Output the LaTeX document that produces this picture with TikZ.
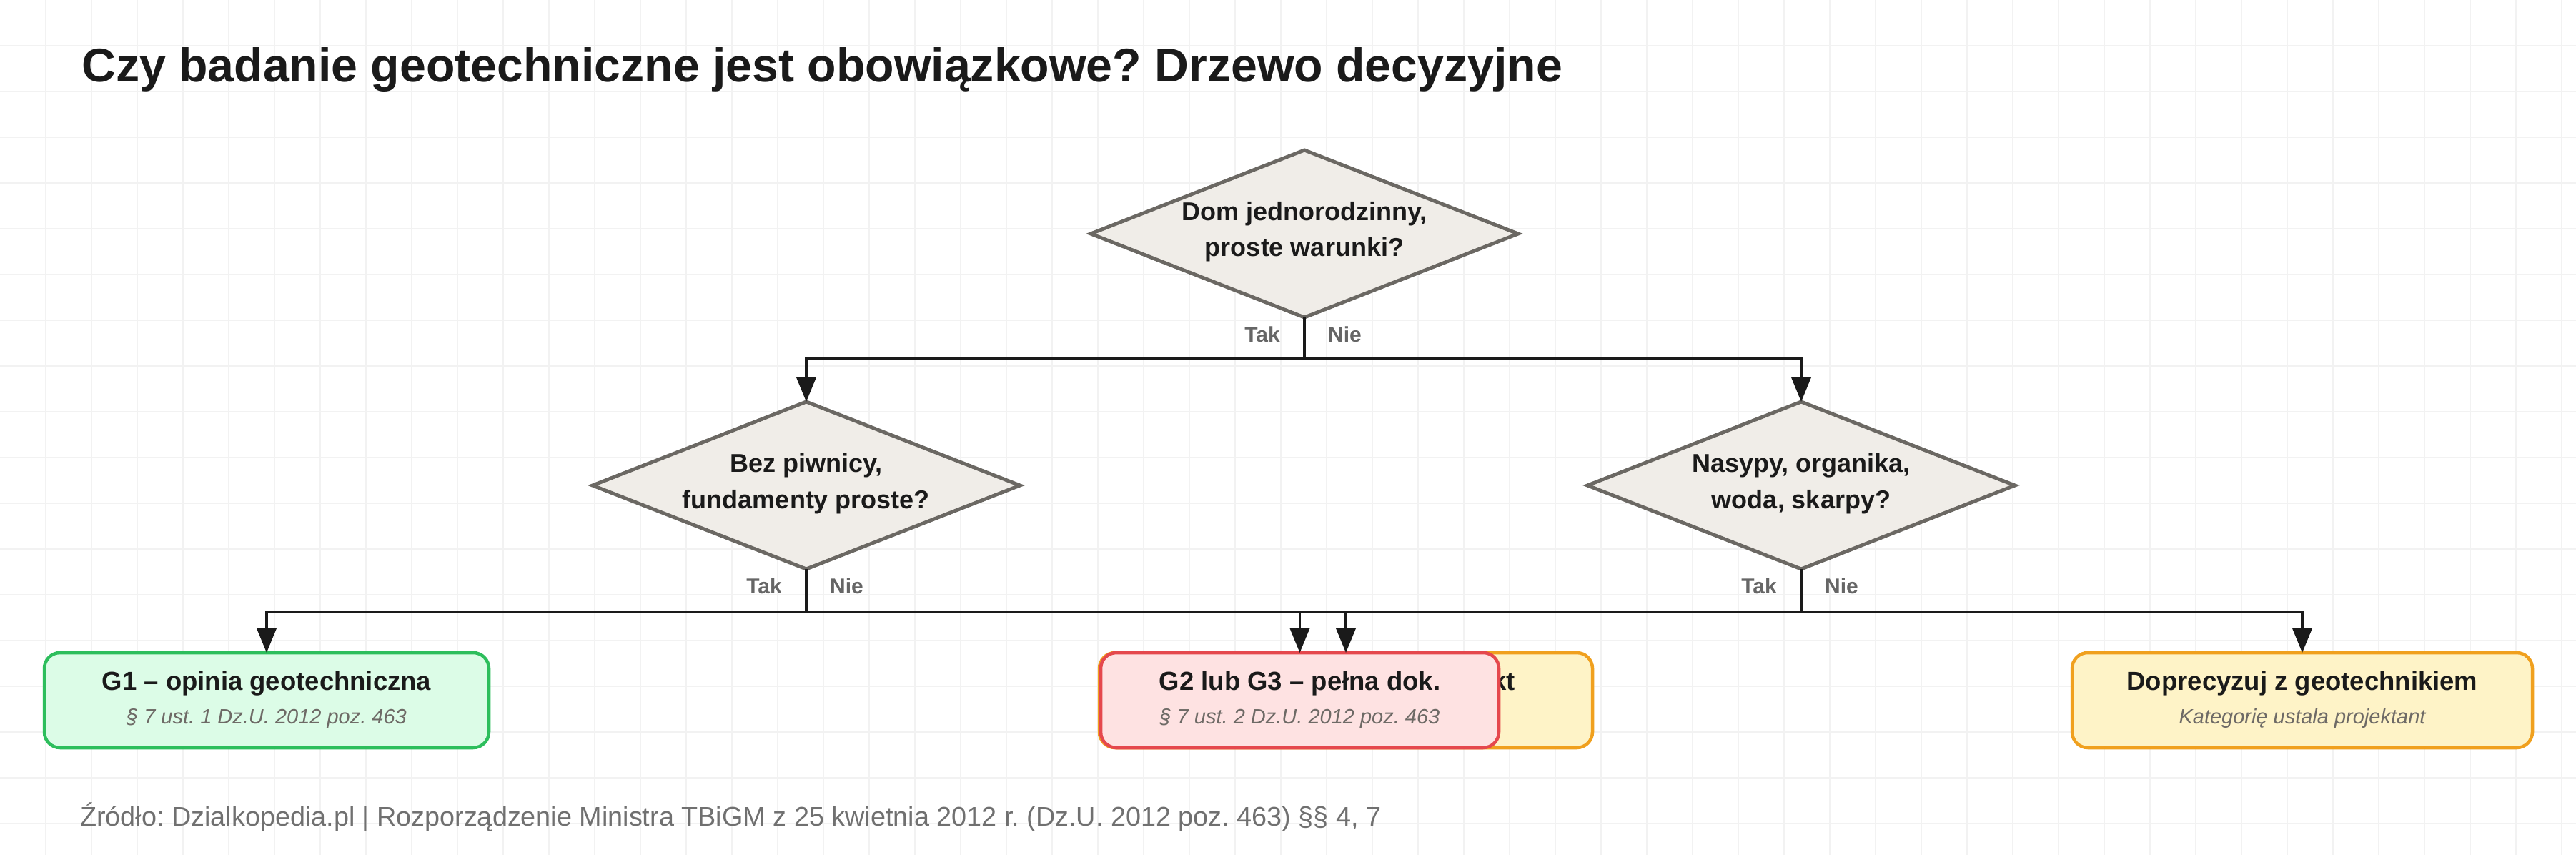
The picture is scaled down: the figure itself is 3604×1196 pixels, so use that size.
\documentclass[tikz,border=0pt]{standalone}
\usepackage{fontspec}
\setmainfont{Liberation Sans}
\usetikzlibrary{shapes.geometric,arrows.meta}
\definecolor{ink}{HTML}{1A1A1A}
\definecolor{subgray}{HTML}{6E6A66}
\definecolor{yngray}{HTML}{666666}
\definecolor{footgray}{HTML}{707070}
\definecolor{gridc}{HTML}{F2F2F2}
\definecolor{dfill}{HTML}{F0EDE8}
\definecolor{dstroke}{HTML}{6B6863}
\definecolor{gfill}{HTML}{DCFCE7}
\definecolor{gstroke}{HTML}{2DBE5C}
\definecolor{rfill}{HTML}{FEE2E2}
\definecolor{rstroke}{HTML}{E5484D}
\definecolor{yfill}{HTML}{FEF3C7}
\definecolor{ystroke}{HTML}{F0A01E}
\tikzset{
  dec/.style={diamond, draw=dstroke, fill=dfill, line width=5pt, minimum width=598pt, minimum height=234pt, inner sep=0pt, outer sep=0pt, aspect=2.54},
  res/.style={rectangle, rounded corners=22pt, line width=4.5pt, minimum height=133pt, inner sep=0pt, outer sep=0pt},
  qtext/.style={anchor=base, inner sep=0pt, text=ink, font=\bfseries\fontsize{36}{40}\selectfont},
  rtitle/.style={anchor=base, inner sep=0pt, text=ink, font=\bfseries\fontsize{36.5}{40}\selectfont},
  rsub/.style={anchor=base, inner sep=0pt, text=subgray, font=\itshape\fontsize{29}{32}\selectfont},
  yntak/.style={anchor=base east, inner sep=0pt, text=yngray, font=\bfseries\fontsize{30}{34}\selectfont},
  ynnie/.style={anchor=base west, inner sep=0pt, text=yngray, font=\bfseries\fontsize{30}{34}\selectfont},
  conn/.style={draw=ink, line width=3.5pt},
  arr/.style={conn, -{Triangle[length=34pt,width=27pt]}},
}
\begin{document}
\frenchspacing
\begin{tikzpicture}[x=1pt,y=-1pt]
\useasboundingbox (0,0) rectangle (3604,1196);
\fill[white] (0,0) rectangle (3604,1196);
\foreach \gx in {64,128,...,3584} \draw[gridc, line width=1.5pt] (\gx,0) -- (\gx,1196);
\foreach \gy in {64,128,...,1152} \draw[gridc, line width=1.5pt] (0,\gy) -- (3604,\gy);

% title
\node[anchor=base west, inner sep=0pt, text=ink, font=\bfseries] (title) at (114,115)
  {\resizebox{2071pt}{!}{Czy badanie geotechniczne jest obowiązkowe? Drzewo decyzyjne}};

% decisions
\node[dec] (d1) at (1825,327) {};
\node[qtext] (d1a) at (1825,308) {Dom jednorodzinny,};
\node[qtext] (d1b) at (1825,358) {proste warunki?};

\node[dec] (d2) at (1128,679) {};
\node[qtext] (d2a) at (1128,660) {Bez piwnicy,};
\node[qtext] (d2b) at (1128,711) {fundamenty proste?};

\node[dec] (d3) at (2520,679) {};
\node[qtext] (d3a) at (2520,660) {Nasypy, organika,};
\node[qtext] (d3b) at (2520,711) {woda, skarpy?};

% yes / no labels
\node[yntak] (t1) at (1791,478) {Tak};
\node[ynnie] (n1) at (1858,478) {Nie};
\node[yntak] (t2) at (1094,830) {Tak};
\node[ynnie] (n2) at (1161,830) {Nie};
\node[yntak] (t3) at (2486,830) {Tak};
\node[ynnie] (n3) at (2553,830) {Nie};

% results
\node[res, draw=gstroke, fill=gfill, minimum width=622pt] (g1) at (373,979.5) {};
\node[rtitle] (g1a) at (373,965) {G1 – opinia geotechniczna};
\node[rsub] (g1b) at (373,1012) {§ 7 ust. 1 Dz.U. 2012 poz. 463};

\node[res, draw=ystroke, fill=yfill, minimum width=690pt] (yb) at (1883,979.5) {};
\node[rtitle, anchor=base east] (yba) at (2120,965) {G2 – dokumentacja + projekt};

\node[res, draw=rstroke, fill=rfill, minimum width=557pt] (rb) at (1818.5,979.5) {};
\node[rtitle] (rba) at (1818.5,965) {G2 lub G3 – pełna dok.};
\node[rsub] (rbb) at (1818.5,1012) {§ 7 ust. 2 Dz.U. 2012 poz. 463};

\node[res, draw=ystroke, fill=yfill, minimum width=644pt] (dp) at (3221,979.5) {};
\node[rtitle] (dpa) at (3221,965) {Doprecyzuj z geotechnikiem};
\node[rsub] (dpb) at (3221,1012) {Kategorię ustala projektant};

% connectors
\coordinate (j1) at (d1.south |- 0,501);
\coordinate (j2) at (d2.south |- 0,856);
\coordinate (j3) at (d3.south |- 0,856);
\draw[conn] (d1.south) -- (j1);
\draw[arr] (j1) -| (d2.north);
\draw[arr] (j1) -| (d3.north);
\draw[conn] (d2.south) -- (j2);
\draw[arr] (j2) -| (g1.north);
\draw[arr] (j2) -| (yb.north);
\draw[conn] (d3.south) -- (j3);
\draw[arr] (j3) -| (rb.north);
\draw[arr] (j3) -| (dp.north);

% footer
\node[anchor=base west, inner sep=0pt, text=footgray] (foot) at (112,1155)
  {\resizebox{1820pt}{!}{Źródło: Dzialkopedia.pl | Rozporządzenie Ministra TBiGM z 25 kwietnia 2012 r. (Dz.U. 2012 poz. 463) §§ 4, 7}};
\end{tikzpicture}
\end{document}
